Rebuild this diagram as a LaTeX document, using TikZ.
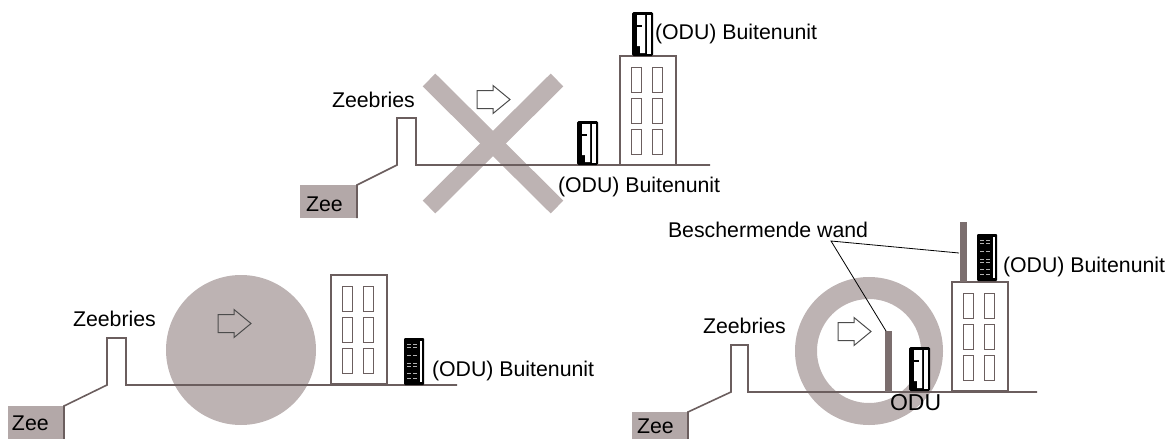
\documentclass[tikz,border=0pt]{standalone}
\usepackage{fontspec}
\setmainfont{Liberation Sans}
\definecolor{mistgrey}{HTML}{BDB3B3}
\definecolor{seafill}{HTML}{B3A8A8}
\definecolor{coast}{HTML}{6B5E5E}
\definecolor{wallc}{HTML}{7B6E6E}
\begin{document}
\begin{tikzpicture}[x=1pt,y=-1pt,
  lbl/.style={font=\fontsize{21.3}{25}\selectfont, anchor=base west, inner sep=0pt, outer sep=0pt},
  coastline/.style={draw=coast, line width=1.6pt, line join=miter},
  bldg/.style={draw=coast, fill=white, line width=1.4pt},
  win/.style={draw=coast, line width=1pt},
  arrowline/.style={draw=black!70, line width=1pt, line join=miter},
  odudash/.style={draw=black!30, line width=0.8pt},
  leader/.style={draw=black, line width=0.8pt},
  building/.pic={
    \path[bldg] (0,0) rectangle (56,109);
    \foreach \cx in {11,32} \foreach \cy in {11,42,73}
      \path[win] (\cx,\cy) rectangle ++(10.5,25);
  },
  windarrow/.pic={
    \path[arrowline] (0,-9) -- (16,-9) -- (16,-14) -- (33,0) -- (16,14) -- (16,9) -- (0,9) -- cycle;
  },
  oduside/.pic={
    \fill[black, rounded corners=1.5pt] (0,0) rectangle (21,44);
    \fill[white] (5,3) -- (13,3) -- (13,41) -- (8,41) -- (8,34) -- (5,34) -- cycle;
    \fill[white] (15,3) rectangle (18.5,41.5);
    \fill[black] (5,13) rectangle (10,15);
  },
  odufront/.pic={
    \fill[black, rounded corners=1pt] (0,0) rectangle (20,47);
    \fill[white] (16,3) rectangle (18,44);
    \foreach \dy in {6,9,17,25,28,35,40}
      \path[odudash] (3,\dy) -- (7,\dy) (9,\dy) -- (13,\dy);
  }]
\useasboundingbox (0,0) rectangle (1168,439);

% ---------- top scene: crossed out ----------
\draw[draw=mistgrey, line width=18pt] (429,80) -- (557,207);
\draw[draw=mistgrey, line width=18pt] (557,80) -- (429,207);
\fill[seafill] (300,185) rectangle (357,218);
\draw[coastline] (357,218) -- (357,185) -- (397,165) -- (397,118) -- (416,118) -- (416,165) -- (710,165);
\pic at (620,56) {building};
\pic at (632,12) {oduside};
\pic at (577,121) {oduside};
\pic at (477,99.5) {windarrow};
\node[lbl] (zeeA) at (306,211) {Zee};
\node[lbl] (briesA) at (332,107) {Zeebries};
\node[lbl] (oduA1) at (655,39) {(ODU) Buitenunit};
\node[lbl] (oduA2) at (558,192) {(ODU) Buitenunit};

% ---------- bottom left: exposed ----------
\fill[mistgrey] (241,350) circle[radius=75];
\fill[seafill] (8,406) rectangle (64,439);
\draw[coastline] (64,439) -- (64,406) -- (107,385) -- (107,338) -- (126,338) -- (126,385) -- (457,385);
\pic at (331,275) {building};
\pic at (404,338) {odufront};
\pic at (218,323.5) {windarrow};
\node[lbl] (zeeB) at (12,430) {Zee};
\node[lbl] (briesB) at (73,326) {Zeebries};
\node[lbl] (oduB) at (432,376) {(ODU) Buitenunit};

% ---------- bottom right: shielded ----------
\draw[draw=mistgrey, line width=22pt] (869,351) circle[radius=63];
\fill[seafill] (632,412) rectangle (688,439);
\draw[coastline] (688,439) -- (688,412) -- (731,392) -- (731,345) -- (748,345) -- (748,392) -- (1037,392);
\pic at (952,282) {building};
\fill[wallc] (885,331) rectangle (892,392);
\fill[wallc] (960,222) rectangle (967,282);
\pic at (909,347) {oduside};
\pic at (977,234) {odufront};
\pic at (838,331.5) {windarrow};
\node[lbl] (zeeC) at (637,433) {Zee};
\node[lbl] (briesC) at (703,333) {Zeebries};
\node[lbl] (wand) at (668,237) {Beschermende wand};
\node[lbl, font=\fontsize{23}{27}\selectfont] (oduC1) at (890,410) {ODU};
\node[lbl] (oduC2) at (1003,272) {(ODU) Buitenunit};
\coordinate (lead) at (831,241);
\coordinate (wallLow) at (886,331);
\coordinate (wallHigh) at (959,253);
\draw[leader] (wallLow) -- (lead) -- (wallHigh);
\end{tikzpicture}
\end{document}
